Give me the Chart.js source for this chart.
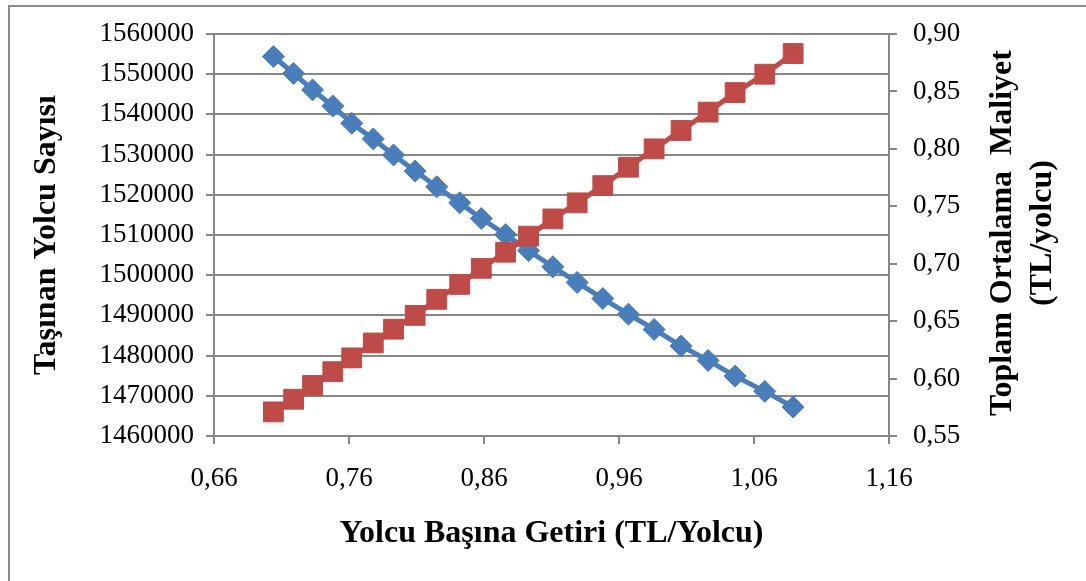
<!DOCTYPE html>
<html>
<head>
<meta charset="utf-8">
<script src="https://cdn.jsdelivr.net/npm/chart.js@4.4.0/dist/chart.umd.min.js"></script>
<style>
  html, body { margin: 0; padding: 0; background: #fff; }
  canvas { display: block; }
</style>
</head>
<body>
<canvas id="c" width="1086" height="581"></canvas>
<script>
// Revenue per passenger (TL/passenger) — shared x values of both series
const revenuePerPassenger = [0.704, 0.719, 0.733, 0.748, 0.762, 0.778, 0.793, 0.809, 0.825, 0.842, 0.858, 0.876,
                             0.893, 0.911, 0.929, 0.948, 0.967, 0.986, 1.006, 1.026, 1.046, 1.068, 1.089];
// Passengers carried (left axis)
const passengersCarried = [1554400, 1550200, 1546100, 1542100, 1537800, 1533900, 1529900, 1525900, 1522000, 1518000,
                           1514100, 1510100, 1506100, 1502100, 1498200, 1494200, 1490300, 1486500, 1482400, 1478800,
                           1474900, 1471100, 1467200];
// Average total cost (TL/passenger, right axis)
const averageTotalCost = [0.571, 0.582, 0.594, 0.606, 0.618, 0.631, 0.643, 0.655, 0.669, 0.682, 0.696, 0.710,
                          0.724, 0.739, 0.753, 0.768, 0.784, 0.800, 0.816, 0.832, 0.849, 0.865, 0.883];

// Axis ranges and tick steps
const xRange = [0.66, 1.16], xStep = 0.1;
const passengerRange = [1460000, 1560000], passengerStep = 10000;
const costRange = [0.55, 0.90], costStep = 0.05;

const FONT = '"Liberation Serif", "Times New Roman", Times, serif';
const GRID = '#878787';
const BLUE = '#4A7EBB';
const RED = '#BE4B48';

const comma = (v, d) => Number(v).toFixed(d).replace('.', ',');

// White page with the outer frame line
const frame = {
  id: 'frame',
  beforeDraw(chart) {
    const ctx = chart.ctx;
    ctx.save();
    ctx.fillStyle = '#fff';
    ctx.fillRect(0, 0, chart.width, chart.height);
    ctx.strokeStyle = '#8c8c8c';
    ctx.lineWidth = 2;
    ctx.strokeRect(9, 6, chart.width + 20, chart.height + 20);
    ctx.restore();
  }
};

// Right-hand axis title, two lines reading bottom to top
const costTitle = {
  id: 'costTitle',
  afterDraw(chart) {
    const ctx = chart.ctx;
    const a = chart.chartArea;
    ctx.save();
    ctx.font = 'bold 32px ' + FONT;
    ctx.fillStyle = '#000';
    ctx.textAlign = 'center';
    ctx.textBaseline = 'middle';
    ctx.translate(1003, (a.top + a.bottom) / 2 - 2);
    ctx.rotate(-Math.PI / 2);
    ctx.fillText('Toplam Ortalama  Maliyet', 0, 0);
    ctx.fillText('(TL/yolcu)', 0, 40);
    ctx.restore();
  }
};

new Chart(document.getElementById('c'), {
  type: 'line',
  data: {
    datasets: [
      {
        label: 'Toplam Ortalama Maliyet',
        data: revenuePerPassenger.map((x, i) => ({ x, y: averageTotalCost[i] })),
        yAxisID: 'yCost',
        borderColor: RED,
        backgroundColor: RED,
        borderWidth: 5,
        pointStyle: 'rect',
        pointRadius: 14,
        pointBorderWidth: 1,
        pointBorderColor: RED,
        pointBackgroundColor: RED,
        tension: 0
      },
      {
        label: 'Taşınan Yolcu Sayısı',
        data: revenuePerPassenger.map((x, i) => ({ x, y: passengersCarried[i] })),
        yAxisID: 'yPass',
        borderColor: BLUE,
        backgroundColor: BLUE,
        borderWidth: 5,
        pointStyle: 'rectRot',
        pointRadius: 11,
        pointBorderWidth: 1,
        pointBorderColor: BLUE,
        pointBackgroundColor: BLUE,
        tension: 0
      }
    ]
  },
  options: {
    responsive: false,
    animation: false,
    events: [],
    layout: { padding: { top: 34, left: 0, right: 0, bottom: 0 } },
    plugins: { legend: { display: false }, tooltip: { enabled: false } },
    scales: {
      x: {
        type: 'linear',
        min: xRange[0], max: xRange[1],
        afterFit(s) { s.height = 145; },
        border: { display: true, color: GRID, width: 2 },
        grid: { drawOnChartArea: false, drawTicks: true, tickLength: 8, color: GRID, lineWidth: 2 },
        ticks: {
          stepSize: xStep,
          padding: 19,
          maxRotation: 0,
          color: '#000',
          font: { family: FONT, size: 27 },
          callback: v => comma(v, 2)
        },
        title: {
          display: true,
          text: 'Yolcu Başına Getiri (TL/Yolcu)',
          color: '#000',
          font: { family: FONT, size: 32, weight: 'bold' },
          padding: { top: 0, bottom: 28 }
        }
      },
      yPass: {
        type: 'linear',
        position: 'left',
        min: passengerRange[0], max: passengerRange[1],
        afterFit(s) { s.width = 214; },
        border: { display: true, color: GRID, width: 2 },
        grid: { drawOnChartArea: true, drawTicks: true, tickLength: 8, color: GRID, lineWidth: 2 },
        ticks: {
          stepSize: passengerStep,
          padding: 12,
          color: '#000',
          font: { family: FONT, size: 27 },
          callback: v => String(Math.round(v))
        },
        title: {
          display: true,
          text: 'Taşınan Yolcu Sayısı',
          color: '#000',
          font: { family: FONT, size: 32, weight: 'bold' },
          padding: { top: 28, bottom: 0 }
        }
      },
      yCost: {
        type: 'linear',
        position: 'right',
        min: costRange[0], max: costRange[1],
        afterFit(s) { s.width = 197; },
        border: { display: true, color: GRID, width: 2 },
        grid: { drawOnChartArea: false, drawTicks: true, tickLength: 8, color: GRID, lineWidth: 2 },
        ticks: {
          stepSize: costStep,
          padding: 16,
          color: '#000',
          font: { family: FONT, size: 27 },
          callback: v => comma(v, 2)
        }
      }
    }
  },
  plugins: [frame, costTitle]
});
</script>
</body>
</html>
